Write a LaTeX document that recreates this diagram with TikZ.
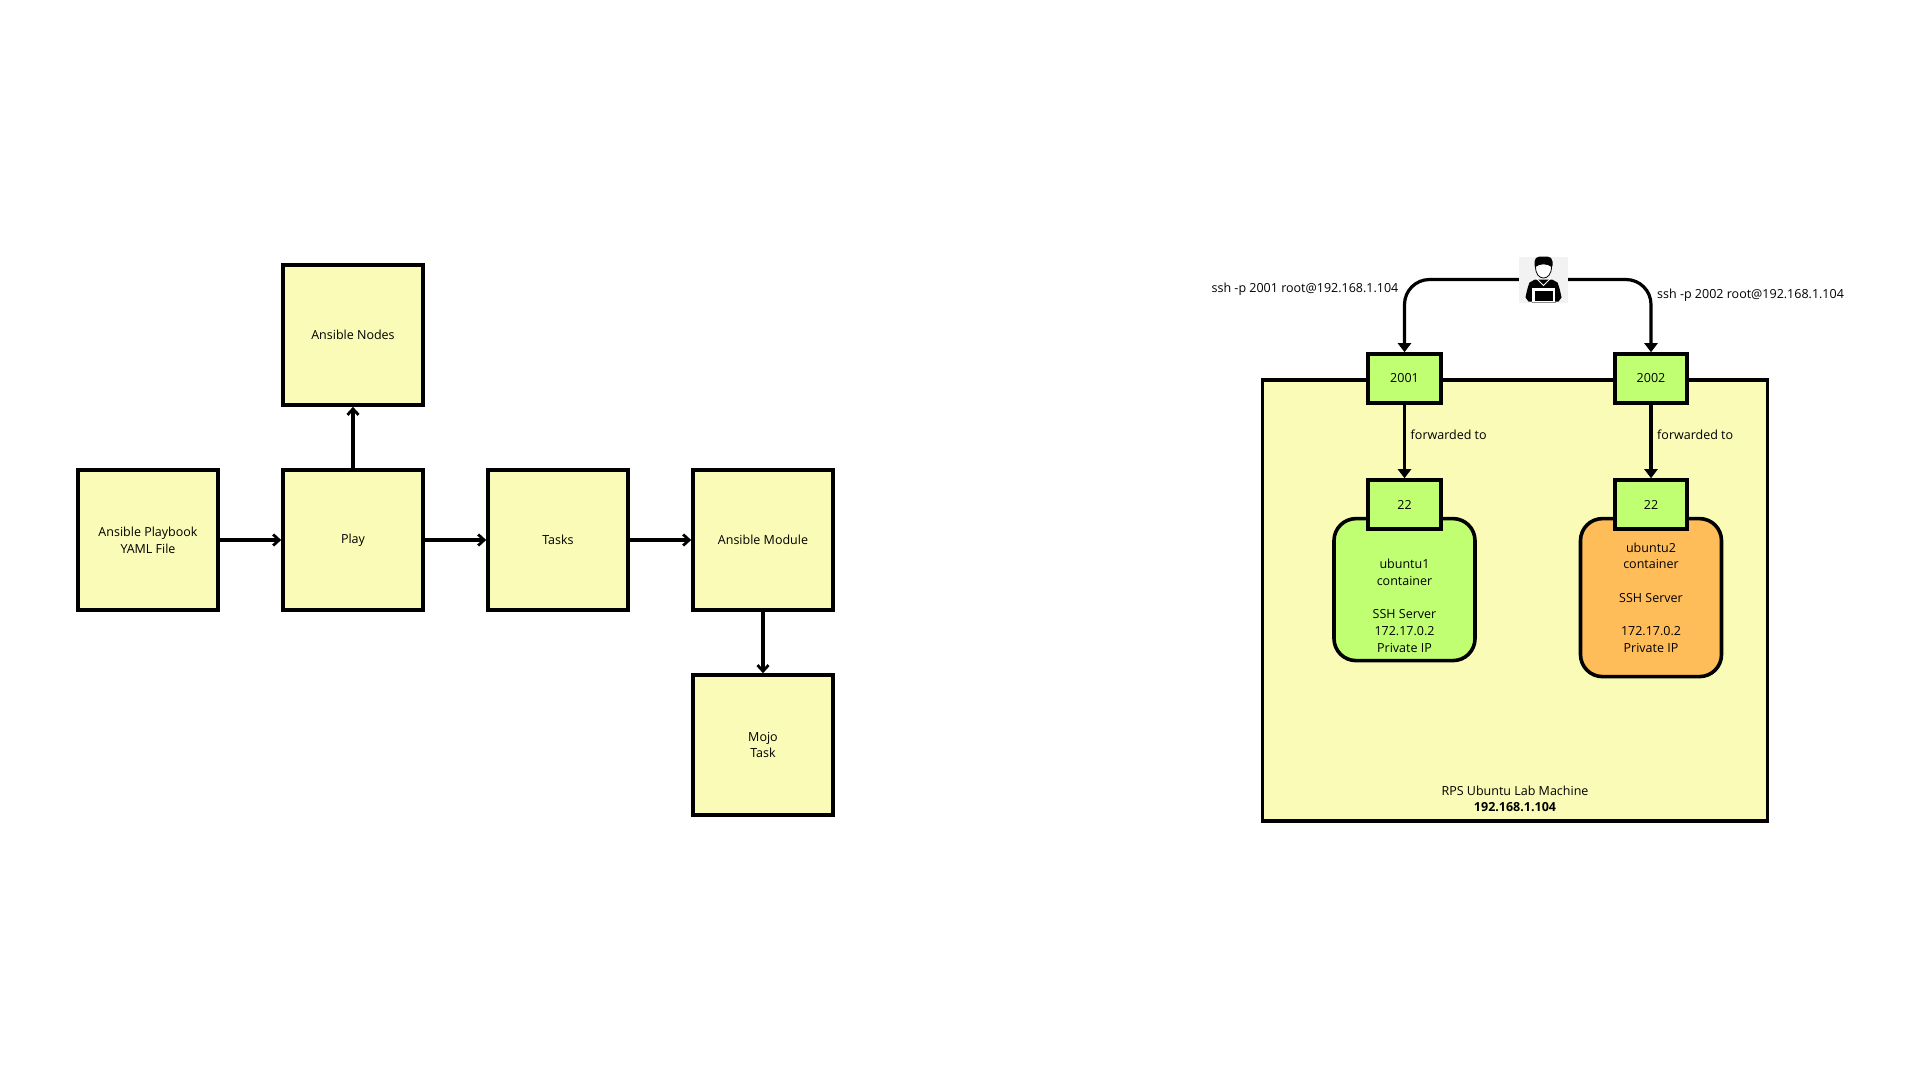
\documentclass[tikz,border=0pt]{standalone}
\usepackage{fontspec}
\setmainfont{Open Sans}
\usetikzlibrary{arrows.meta, positioning, backgrounds}
\definecolor{labyellow}{HTML}{FAFBB6}
\definecolor{labgreen}{HTML}{C1FF72}
\definecolor{laborange}{HTML}{FFBD59}
\definecolor{labgrey}{HTML}{F2F2F2}
\tikzset{
  node distance=61.4pt,
  box/.style={rectangle, draw=black, line width=3.6pt, fill=labyellow, align=center,
              minimum width=140pt, minimum height=140pt, inner sep=0pt},
  port/.style={box, fill=labgreen, minimum width=72.5pt, minimum height=49pt},
  host/.style={box, minimum width=505pt, minimum height=441pt},
  ctr/.style={box, rounded corners=22pt, minimum width=141pt},
  ctrg/.style={ctr, fill=labgreen, minimum height=142pt},
  ctro/.style={ctr, fill=laborange, minimum height=158pt},
  flow/.style={-{Straight Barb[length=6pt, width=11pt, line width=2.8pt]}, line width=3.2pt, draw=black},
  flowt/.style={-{Triangle[length=9pt, width=13pt]}, line width=3.2pt, draw=black},
  lbl/.style={inner sep=0pt, align=center},
}
\begin{document}
\begin{tikzpicture}[x=1pt, y=-1pt, font=\fontsize{12.5}{16.7}\selectfont]
      \useasboundingbox (0,0) rectangle (1920,1080);
      \node[box] (playbook) at (148,540) {Ansible Playbook\\YAML File};
      \node[box, right=of playbook] (play) {Play};
      \node[box, above=of play] (nodes) {Ansible Nodes};
      \node[box, right=of play] (tasks) {Tasks};
      \node[box, right=of tasks] (module) {Ansible Module};
      \node[box, below=of module] (mojo) {Mojo\\Task};
      \draw[flow] (playbook) -- (play); \draw[flow] (play) -- (nodes); \draw[flow] (play) -- (tasks);
      \draw[flow] (tasks) -- (module); \draw[flow] (module) -- (mojo);

      \node[port] (p2001) at (1404.5,378.5) {2001};
      \node[port, right=170.4pt of p2001] (p2002) {2002};
      \node[port, below=73.4pt of p2001] (p22a) {22};
      \node[port, below=73.4pt of p2002] (p22b) {22};
      \begin{scope}[on background layer]
        \node[host] (lab) at (1515,600.5) {};
        \node[ctrg, below=-14pt of p22a] (ubuntu1) {};
        \node[ctro, below=-14pt of p22b] (ubuntu2) {};
      \end{scope}
      \node[lbl, below=28pt of p22a] (ubuntu1txt) {ubuntu1\\container\\~\\SSH Server\\172.17.0.2\\Private IP};
      \node[lbl, below=11.5pt of p22b] (ubuntu2txt) {ubuntu2\\container\\~\\SSH Server\\~\\172.17.0.2\\Private IP};
      \node[lbl, above=10.5pt of lab.south] (labtxt) {RPS Ubuntu Lab Machine\\\textbf{192.168.1.104}};

      \node[inner sep=0pt, minimum width=49pt, minimum height=46pt, fill=labgrey] (user) at (1543.5,279.5) {};
      \begin{scope}[shift={(user.center)}]
        \fill[black, rounded corners=5pt] (-9,-23) rectangle (9,-9);
        \fill[black] (-8.5,0) -- (8.5,0) -- (14,3) .. controls (16,8) and (17,13) .. (18,18) -- (15,22) -- (-15,22) -- (-18,18) .. controls (-17,13) and (-16,8) .. (-14,3) -- cycle;
        \filldraw[fill=white, draw=black, line width=.8pt] (-8,-13) .. controls (-4,-16.5) and (4,-16.5) .. (8,-13) .. controls (8,-5) and (4,-1.5) .. (0,-1.5) .. controls (-4,-1.5) and (-8,-5) .. (-8,-13) -- cycle;
        \draw[white, line width=1pt] (-7.5,-1.5) -- (0,6) -- (7.5,-1.5);
        \fill[white] (-11.5,8.5) rectangle (11.5,22);
        \fill[black] (-9,11) rectangle (9,21.5);
        \fill[black!45] (-12,22) rectangle (12,23.2);
      \end{scope}

      \draw[flowt, rounded corners=25pt] (user.west) -| (p2001.north);
      \draw[flowt, rounded corners=25pt] (user.east) -| (p2002.north);
      \draw[flowt] (p2001) -- (p22a); \draw[flowt] (p2002) -- (p22b);
      \node[lbl, left=6pt of p2001.north, yshift=63pt] (ssh1) {ssh -p 2001 root@192.168.1.104};
      \node[lbl, right=6pt of p2002.north, yshift=57pt] (ssh2) {ssh -p 2002 root@192.168.1.104};
      \node[lbl, right=6pt of p2001.south, yshift=-29.5pt] (fwd1) {forwarded to};
      \node[lbl, right=6pt of p2002.south, yshift=-29.5pt] (fwd2) {forwarded to};
    \end{tikzpicture}
\end{document}
